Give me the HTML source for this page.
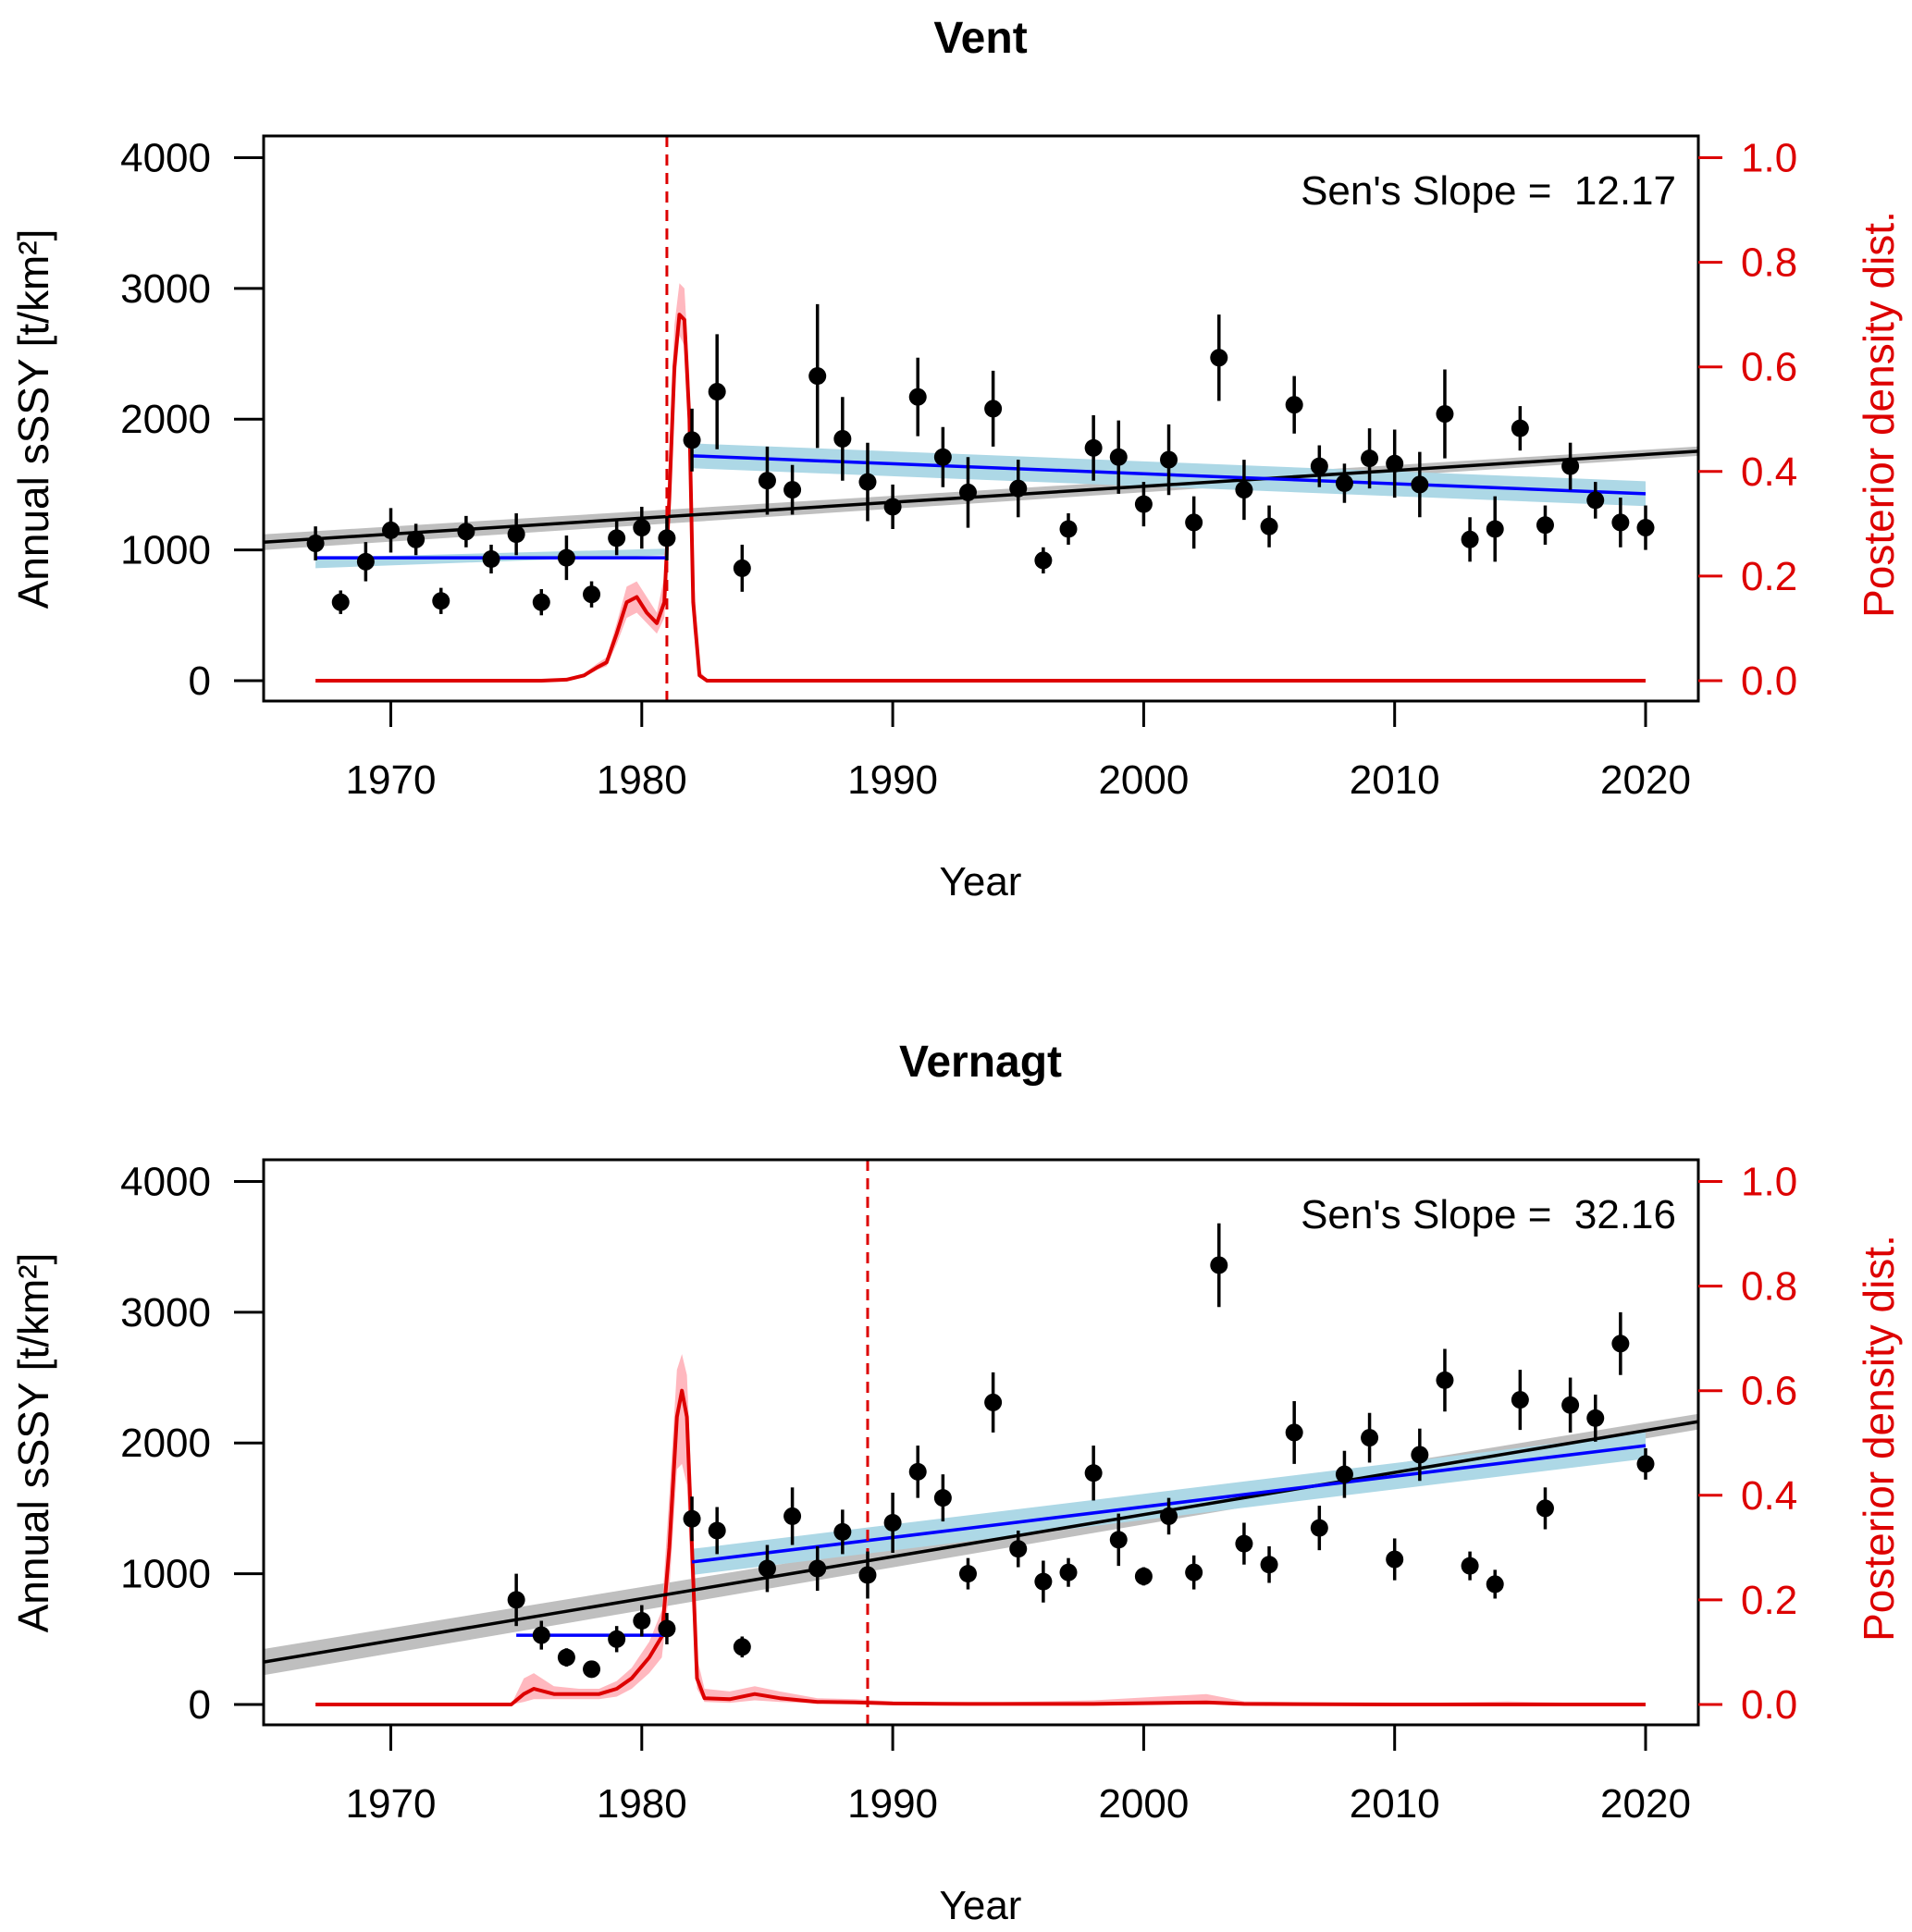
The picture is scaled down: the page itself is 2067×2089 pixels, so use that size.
<!DOCTYPE html>
<html><head><meta charset="utf-8"><style>
html,body{margin:0;padding:0;background:#fff;}
svg{display:block;font-family:"Liberation Sans",Arial,sans-serif;}
</style></head><body>
<svg id="chart" width="2067" height="2089" viewBox="0 0 2067 2089" xmlns="http://www.w3.org/2000/svg"></svg>
<script>
// ---------- DATA ----------
const xTicks = [1970, 1980, 1990, 2000, 2010, 2020];
const yTicks = [0, 1000, 2000, 3000, 4000];
const rTicks = ["0.0", "0.2", "0.4", "0.6", "0.8", "1.0"];

const ventYears = [1967,1968,1969,1970,1971,1972,1973,1974,1975,1976,1977,1978,1979,1980,1981,1982,1983,1984,1985,1986,1987,1988,1989,1990,1991,1992,1993,1994,1995,1996,1997,1998,1999,2000,2001,2002,2003,2004,2005,2006,2007,2008,2009,2010,2011,2012,2013,2014,2015,2016,2017,2018,2019,2020];
const ventValues = [1050,600,910,1150,1080,610,1140,930,1120,600,940,660,1090,1170,1090,1840,2210,860,1530,1460,2330,1850,1520,1330,2170,1710,1440,2080,1470,920,1160,1780,1710,1350,1690,1210,2470,1460,1180,2110,1640,1510,1700,1660,1500,2040,1080,1160,1930,1190,1640,1380,1210,1170];
const ventErr = [130,90,150,170,120,100,120,110,160,100,170,100,130,160,170,240,440,180,260,190,550,320,300,170,300,230,270,290,220,100,120,250,280,170,270,200,330,230,160,220,160,150,230,260,250,340,170,250,170,150,180,140,190,170];
const ventSen = [12.17];
const ventSenAt2022 = [1754];
const ventSenBand = [60];
const ventSeg1 = [1967, 1981, 940, 940];
const ventSeg1BandLo = [860, 960];
const ventSeg1BandHi = [940, 1010];
const ventSeg2 = [1982, 2020, 1720, 1430];
const ventSeg2Band = [95, 95];
const ventChange = [1981];
const ventDensYears = [1967,1976,1977,1977.7,1978.2,1978.6,1979,1979.4,1979.8,1980.2,1980.6,1980.9,1981.1,1981.3,1981.5,1981.7,1981.9,1982.05,1982.3,1982.6,2020];
const ventDens = [0,0,0.002,0.01,0.025,0.035,0.09,0.15,0.16,0.13,0.11,0.15,0.35,0.6,0.7,0.69,0.5,0.15,0.01,0,0];
const ventDensHi = [0,0,0.004,0.014,0.032,0.045,0.11,0.18,0.19,0.16,0.13,0.2,0.45,0.68,0.76,0.75,0.58,0.22,0.02,0.002,0];
const ventDensLo = [0,0,0.001,0.007,0.02,0.028,0.07,0.12,0.13,0.11,0.09,0.12,0.28,0.55,0.66,0.64,0.44,0.1,0.005,0,0];

const vernYears = [1975,1976,1977,1978,1979,1980,1981,1982,1983,1984,1985,1986,1987,1988,1989,1990,1991,1992,1993,1994,1995,1996,1997,1998,1999,2000,2001,2002,2003,2004,2005,2006,2007,2008,2009,2010,2011,2012,2013,2014,2015,2016,2017,2018,2019,2020];
const vernValues = [800,530,360,270,500,640,580,1420,1330,440,1040,1440,1040,1320,990,1390,1780,1580,1000,2310,1190,940,1010,1770,1260,980,1440,1010,3360,1230,1070,2080,1350,1760,2040,1110,1910,2480,1060,920,2330,1500,2290,2190,2760,1840];
const vernErr = [200,110,70,50,100,120,120,170,180,80,180,220,170,170,180,230,200,180,120,230,140,160,110,210,200,70,140,130,320,160,140,240,170,180,190,160,200,240,110,110,230,160,210,180,240,120];
const vernSen = [32.16];
const vernSenAt2022 = [2160];
const vernSenBand = [100];
const vernSeg1 = [1975, 1981, 530, 530];
const vernSeg2 = [1982, 2020, 1090, 1980];
const vernSeg2Band = [100, 100];
const vernChange = [1989];
const vernDensYears = [1967,1974.8,1975.3,1975.7,1976.5,1977.5,1978.3,1979,1979.6,1980.3,1980.8,1981.1,1981.4,1981.6,1981.8,1982,1982.2,1982.5,1983.5,1984.5,1985.5,1987,1988.5,1990,1993,1998,2002.5,2004,2010,2014.5,2020];
const vernDens = [0,0,0.02,0.03,0.02,0.02,0.02,0.03,0.05,0.09,0.13,0.3,0.55,0.6,0.55,0.3,0.05,0.012,0.01,0.02,0.012,0.005,0.004,0.002,0.001,0.001,0.004,0.001,0,0,0];
const vernDensHi = [0,0,0.05,0.06,0.035,0.03,0.03,0.045,0.07,0.12,0.18,0.4,0.64,0.67,0.63,0.4,0.09,0.03,0.025,0.035,0.025,0.012,0.01,0.006,0.003,0.008,0.02,0.006,0.002,0.006,0];
const vernDensLo = [0,0,0.005,0.01,0.01,0.01,0.01,0.015,0.03,0.06,0.09,0.22,0.45,0.46,0.42,0.2,0.03,0.005,0.003,0.008,0.005,0.002,0.001,0,0,0,0,0,0,0,0];

// ---------- LAYOUT ----------
const NS = "http://www.w3.org/2000/svg";
const svg = document.getElementById('chart');
const BOX_L = 285, BOX_R = 1836;
const X0 = 422.5, PXY = 27.13;
const PXV = 0.14138;
function xS(yr){ return X0 + (yr - 1970) * PXY; }
const YR_L = 1970 + (BOX_L - X0) / PXY, YR_R = 1970 + (BOX_R - X0) / PXY;
const RED = "#dd0000";

function el(tag, attrs, parent){
  const e = document.createElementNS(NS, tag);
  for (const k in attrs) e.setAttribute(k, attrs[k]);
  (parent || svg).appendChild(e);
  return e;
}
function pts(arr){ return arr.map(p => p[0].toFixed(1) + "," + p[1].toFixed(1)).join(" "); }

function panel(o){
  const g = el('g', {});
  
  
  const y0 = o.y0;
  const yS = v => y0 - v * PXV;
  const dS = d => y0 - d * 4000 * PXV;
  const top = y0 - 589, bot = y0 + 22;

  const t = el('text', {x: 1060, y: top - 90, 'text-anchor': 'middle', 'font-size': 48, 'font-weight': 'bold', fill: '#000'}, g);
  t.textContent = o.title;
  
  

  const sLine = yr => o.senAt + o.sen[0] * (yr - 2022);
  const band = el('polygon', {fill: '#a9a9a9', opacity: 0.75, points: pts([
    [BOX_L, yS(sLine(YR_L) + o.senBand)], [BOX_R, yS(sLine(YR_R) + o.senBand * 0.6)],
    [BOX_R, yS(sLine(YR_R) - o.senBand * 0.6)], [BOX_L, yS(sLine(YR_L) - o.senBand)]])}, g);
  
  

  if (o.seg1Lo){
    const b1 = el('polygon', {fill: '#add8e6', points: pts([
      [xS(o.seg1[0]), yS(o.seg1Hi[0])], [xS(o.seg1[1]), yS(o.seg1Hi[1])],
      [xS(o.seg1[1]), yS(o.seg1Lo[1])], [xS(o.seg1[0]), yS(o.seg1Lo[0])]])}, g);
    
    
  }
  const b2 = el('polygon', {fill: '#add8e6', points: pts([
    [xS(o.seg2[0]), yS(o.seg2[2] + o.seg2Band[0])], [xS(o.seg2[1]), yS(o.seg2[3] + o.seg2Band[1])],
    [xS(o.seg2[1]), yS(o.seg2[3] - o.seg2Band[1])], [xS(o.seg2[0]), yS(o.seg2[2] - o.seg2Band[0])]])}, g);
  
  

  const hi = o.dYears.map((yr, i) => [xS(yr), dS(o.dHi[i])]);
  const lo = o.dYears.map((yr, i) => [xS(yr), dS(o.dLo[i])]).reverse();
  const db = el('polygon', {fill: '#ffb0b8', opacity: 0.9, points: pts(hi.concat(lo))}, g);
  
  
  const dl = el('polyline', {fill: 'none', stroke: RED, 'stroke-width': 4, 'stroke-linejoin': 'round', points: pts(o.dYears.map((yr, i) => [xS(yr), dS(o.d[i])]))}, g);
  
  

  const sl = el('line', {x1: BOX_L, y1: yS(sLine(YR_L)), x2: BOX_R, y2: yS(sLine(YR_R)), stroke: '#000', 'stroke-width': 3.5}, g);
  
  

  const s1 = el('line', {x1: xS(o.seg1[0]), y1: yS(o.seg1[2]), x2: xS(o.seg1[1]), y2: yS(o.seg1[3]), stroke: '#0000ff', 'stroke-width': 3.5}, g);
  
  
  const s2 = el('line', {x1: xS(o.seg2[0]), y1: yS(o.seg2[2]), x2: xS(o.seg2[1]), y2: yS(o.seg2[3]), stroke: '#0000ff', 'stroke-width': 3.5}, g);
  
  

  const cp = el('line', {x1: xS(o.change[0]), y1: top, x2: xS(o.change[0]), y2: bot, stroke: RED, 'stroke-width': 3, 'stroke-dasharray': '12,8'}, g);
  
  

  o.years.forEach((yr, i) => {
    const x = xS(yr), v = o.values[i], e = o.err[i];
    const eb = el('line', {x1: x, y1: yS(v - e), x2: x, y2: yS(v + e), stroke: '#000', 'stroke-width': 3.5}, g);
    
    
    const c = el('circle', {cx: x, cy: yS(v), r: 9.5, fill: '#000'}, g);
    
    
  });

  const box = el('rect', {x: BOX_L, y: top, width: BOX_R - BOX_L, height: bot - top, fill: 'none', stroke: '#000', 'stroke-width': 3}, g);
  
  

  xTicks.forEach(v => {
    const x = xS(v);
    const tk = el('line', {x1: x, y1: bot, x2: x, y2: bot + 28, stroke: '#000', 'stroke-width': 3}, g);
    
    
    const tl = el('text', {x: x, y: bot + 100, 'text-anchor': 'middle', 'font-size': 44, fill: '#000'}, g);
    tl.textContent = v;
    
    
  });
  const xt = el('text', {x: 1060, y: bot + 210, 'text-anchor': 'middle', 'font-size': 44, fill: '#000'}, g);
  xt.textContent = 'Year';
  
  

  yTicks.forEach(v => {
    const y = yS(v);
    const tk = el('line', {x1: 253, y1: y, x2: BOX_L, y2: y, stroke: '#000', 'stroke-width': 3}, g);
    
    
    const tl = el('text', {x: 228, y: y + 15, 'text-anchor': 'end', 'font-size': 44, fill: '#000'}, g);
    tl.textContent = v;
    
    
  });
  const yt = el('text', {x: 0, y: 0, 'text-anchor': 'middle', 'font-size': 46, fill: '#000', transform: `translate(52,${y0 - 283}) rotate(-90)`}, g);
  yt.textContent = 'Annual sSSY [t/km²]';
  
  

  rTicks.forEach(s => {
    const y = dS(parseFloat(s));
    const tk = el('line', {x1: BOX_R, y1: y, x2: BOX_R + 26, y2: y, stroke: RED, 'stroke-width': 3}, g);
    
    
    const tl = el('text', {x: 1882, y: y + 15, 'text-anchor': 'start', 'font-size': 44, fill: RED}, g);
    tl.textContent = s;
    
    
  });
  const rt = el('text', {x: 0, y: 0, 'text-anchor': 'middle', 'font-size': 46, fill: RED, transform: `translate(2047,${y0 - 288}) rotate(-90)`}, g);
  rt.textContent = 'Posterior density dist.';
  
  

  const st = el('text', {x: 1812, y: top + 74, 'text-anchor': 'end', 'font-size': 44, fill: '#000'}, g);
  st.textContent = "Sen's Slope =\u00a0\u00a0" + o.sen[0].toFixed(2);
  
  
}

panel({name: 'vent', title: 'Vent', y0: 736, years: ventYears, values: ventValues, err: ventErr,
  sen: ventSen, senAt: ventSenAt2022[0], senBand: ventSenBand[0],
  seg1: ventSeg1, seg1Lo: ventSeg1BandLo, seg1Hi: ventSeg1BandHi, seg2: ventSeg2, seg2Band: ventSeg2Band,
  change: ventChange, dYears: ventDensYears, d: ventDens, dHi: ventDensHi, dLo: ventDensLo});
panel({name: 'vernagt', title: 'Vernagt', y0: 1843, years: vernYears, values: vernValues, err: vernErr,
  sen: vernSen, senAt: vernSenAt2022[0], senBand: vernSenBand[0],
  seg1: vernSeg1, seg1Lo: null, seg1Hi: null, seg2: vernSeg2, seg2Band: vernSeg2Band,
  change: vernChange, dYears: vernDensYears, d: vernDens, dHi: vernDensHi, dLo: vernDensLo});
</script>
</body></html>
